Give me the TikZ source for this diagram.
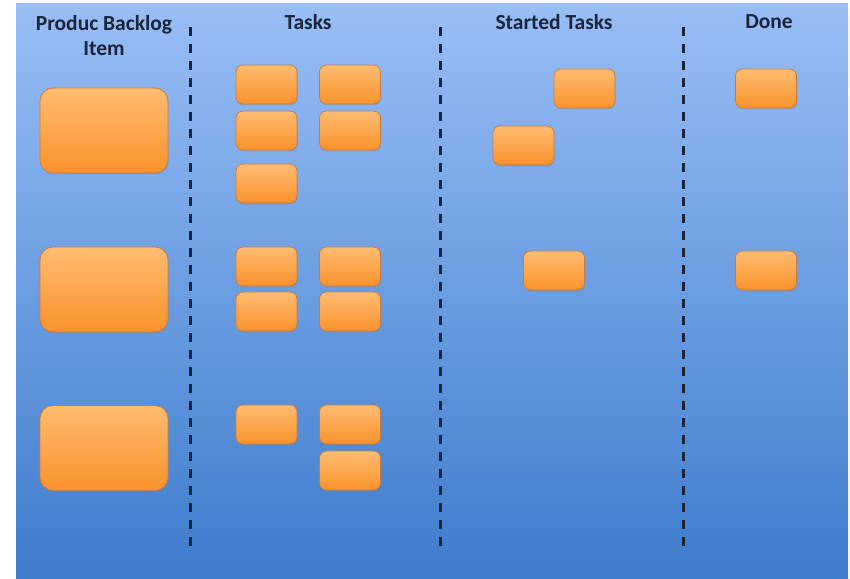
\documentclass[tikz,border=0pt]{standalone}
\usepackage{fontspec}
\setmainfont{Carlito}
\usetikzlibrary{shadows, positioning}
\definecolor{boardtop}{RGB}{152, 190, 246}
\definecolor{boardbot}{RGB}{62, 124, 204}
\definecolor{cardtop}{RGB}{255, 188, 112}
\definecolor{cardbot}{RGB}{250, 146, 44}
\definecolor{cardedge}{RGB}{196, 124, 70}
\definecolor{inkblue}{RGB}{26, 36, 58}

\begin{document}
\begin{tikzpicture}[x=1pt, y=-1pt,
  card/.style={draw=cardedge, line width=0.8pt, top color=cardtop, bottom color=cardbot,
    rounded corners=7pt, minimum width=61pt, minimum height=39pt, inner sep=0pt,
    drop shadow={shadow xshift=0.6pt, shadow yshift=-1.2pt, opacity=0.35}},
  bigcard/.style={card, rounded corners=13pt, minimum width=128pt, minimum height=85pt},
  header/.style={text=inkblue, font=\fontsize{21.5}{25}\selectfont\bfseries, align=center, anchor=north, inner sep=0pt},
  lane/.style={draw=inkblue, line width=3pt, dash pattern=on 9pt off 8pt}]
  \useasboundingbox (0,0) rectangle (850,578);
  \fill[white] (0,0) rectangle (850,578);
  \shade[top color=boardtop, bottom color=boardbot] (16,4) rectangle (848,578);

  % column headers
  \node[header] (backlog) at (104,15) {Produc Backlog\\Item};
  \node[header] (tasks) at (308,14) {Tasks};
  \node[header] (started) at (554,14) {Started Tasks};
  \node[header] (done) at (769,14) {Done};

  % lane separators
  \draw[lane] (190,27) -- (190,553);
  \draw[lane] (440,27) -- (440,553);
  \draw[lane] (683,27) -- (683,553);

  % backlog items
  \node[bigcard] (item1) at (104,130.5) {};
  \node[bigcard] (item2) at (104,289.5) {};
  \node[bigcard] (item3) at (104,448) {};

  % tasks
  \node[card] (task1a) at (266.5,84.5) {};
  \node[card] (task1b) at (350,84.5) {};
  \node[card] (task1c) at (266.5,130.5) {};
  \node[card] (task1d) at (350,130.5) {};
  \node[card] (task1e) at (266.5,183.5) {};
  \node[card] (task2a) at (266.5,266.5) {};
  \node[card] (task2b) at (350,266.5) {};
  \node[card] (task2c) at (266.5,311.5) {};
  \node[card] (task2d) at (350,311.5) {};
  \node[card] (task3a) at (266.5,424.5) {};
  \node[card] (task3b) at (350,424.5) {};
  \node[card] (task3c) at (350,470.5) {};

  % started tasks
  \node[card] (start1a) at (584.5,88.5) {};
  \node[card] (start1b) at (523.5,145.5) {};
  \node[card] (start2a) at (554,270.5) {};

  % done
  \node[card] (done1) at (766,88.5) {};
  \node[card] (done2) at (766,270.5) {};
\end{tikzpicture}
\end{document}
